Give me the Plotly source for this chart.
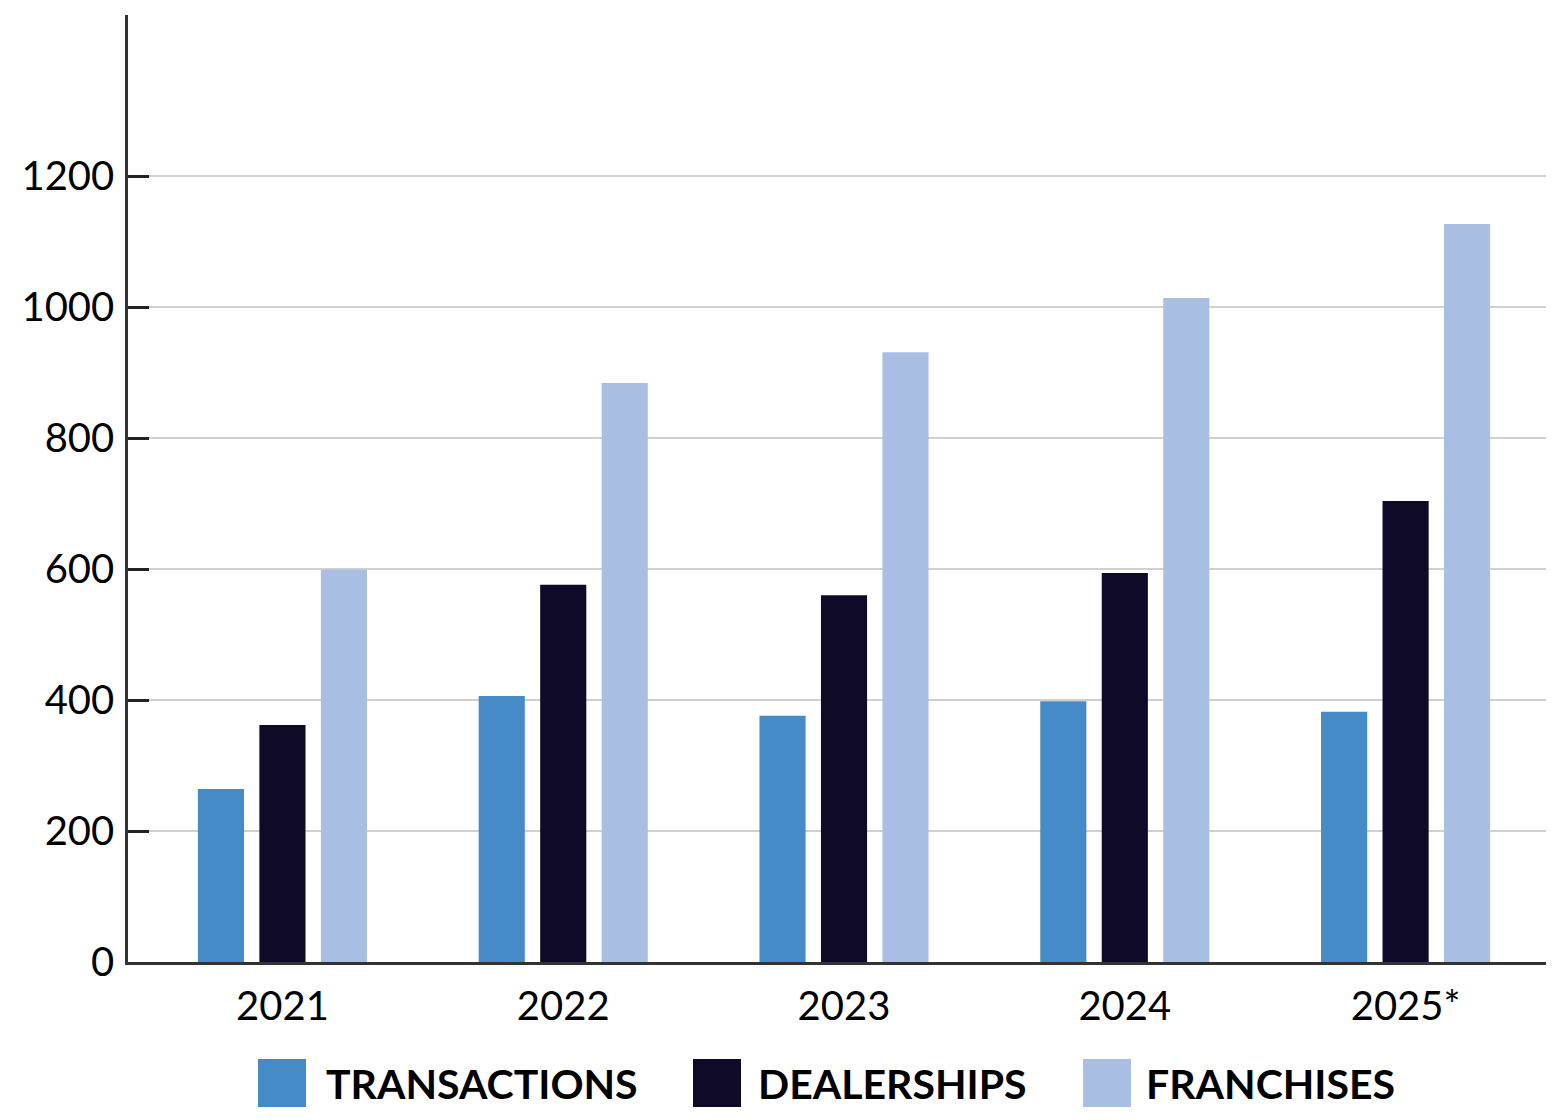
import plotly.graph_objects as go

years = ['2021', '2022', '2023', '2024', '2025*']
transactions = [264, 406, 376, 398, 382]
dealerships = [362, 576, 560, 594, 704]
franchises = [599, 884, 931, 1014, 1127]

series_names = ['TRANSACTIONS', 'DEALERSHIPS', 'FRANCHISES']
colors = ['#458BC7', '#0E0A27', '#A8BFE3']

FONT = 'Lato'

fig = go.Figure()
for name, vals, col in zip(series_names, [transactions, dealerships, franchises], colors):
    fig.add_trace(go.Bar(x=years, y=vals, name=name, marker_color=col,
                         marker_line_width=0, showlegend=False))

# page puts the figure a few px in from the top-left corner
OFF_X, OFF_Y = 7, 8
# plot area in window pixels (for placing the hand-made legend)
L, R, T, B = 127, 1545, 15, 962
W, H = R - L, B - T

def px_x(p):
    return (p - L) / W

def px_y(p):
    return (B - p) / H

# legend: big squares + bold labels
legend_sq = [257, 692, 1082]
legend_tx = [323, 755, 1143]
for name, col, sx, tx in zip(series_names, colors, legend_sq, legend_tx):
    fig.add_shape(type='rect', xref='paper', yref='paper',
                  x0=px_x(sx), x1=px_x(sx + 48), y0=px_y(1107), y1=px_y(1059),
                  fillcolor=col, line_width=0)
    fig.add_annotation(text='<b>' + name + '</b>', xref='paper', yref='paper',
                       x=px_x(tx), y=px_y(1083), xanchor='left', yanchor='middle',
                       showarrow=False, font=dict(family=FONT, size=41, color='black'))

ytop = 1446
fig.update_layout(
    width=1560 - OFF_X, height=1120 - OFF_Y,
    margin=dict(l=L - OFF_X, r=1560 - R, t=T - OFF_Y, b=1120 - B),
    paper_bgcolor='white', plot_bgcolor='white',
    barmode='group', bargap=0.343, bargroupgap=0.25,
    font=dict(family=FONT, size=40, color='black'),
    xaxis=dict(range=[-0.55, 4.5], showline=True, linecolor='#333333', linewidth=2.5,
               ticks='', showgrid=False, tickfont=dict(size=40), ticklabelstandoff=7),
    yaxis=dict(range=[0, ytop], tickvals=[0, 200, 400, 600, 800, 1000, 1200, ytop],
               ticktext=['0', '200', '400', '600', '800', '1000', '1200', ''],
               showline=True, linecolor='#333333', linewidth=2.5,
               ticks='inside', ticklen=21, tickwidth=2.5, tickcolor='#222222',
               showgrid=True, gridcolor='#D0D0D0', gridwidth=2, zeroline=False,
               tickfont=dict(size=40), ticklabelstandoff=3),
)

fig.write_html('out.html')
